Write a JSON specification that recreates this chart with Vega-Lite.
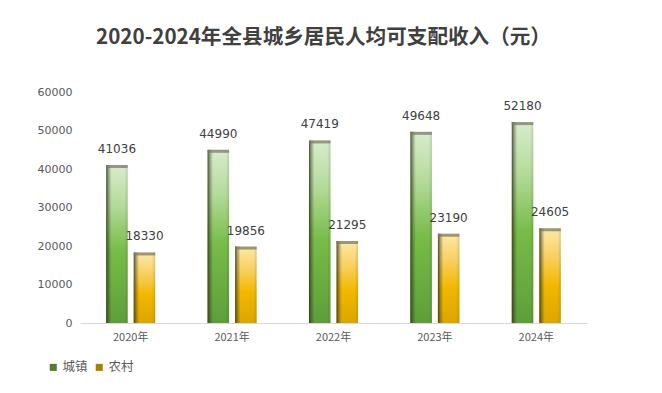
{
  "$schema": "https://vega.github.io/schema/vega-lite/v6.json",
  "width": 507,
  "height": 231,
  "autosize": {"type": "none"},
  "padding": {"left": 80, "top": 92, "right": 75, "bottom": 70},
  "background": "white",
  "config": {"view": {"stroke": null}, "font": "Noto Sans CJK SC"},
  "title": {"text": "2020-2024年全县城乡居民人均可支配收入（元）", "fontSize": 20.6, "fontWeight": "bold", "color": "#404040", "font": "Noto Sans CJK SC", "offset": 37, "dx": -10, "anchor": "middle"},
  "data": {"values": [
    {"year": "2020年", "series": "城镇", "value": 41036},
    {"year": "2020年", "series": "农村", "value": 18330},
    {"year": "2021年", "series": "城镇", "value": 44990},
    {"year": "2021年", "series": "农村", "value": 19856},
    {"year": "2022年", "series": "城镇", "value": 47419},
    {"year": "2022年", "series": "农村", "value": 21295},
    {"year": "2023年", "series": "城镇", "value": 49648},
    {"year": "2023年", "series": "农村", "value": 23190},
    {"year": "2024年", "series": "城镇", "value": 52180},
    {"year": "2024年", "series": "农村", "value": 24605}
  ]},
  "encoding": {
    "x": {"field": "year", "type": "nominal", "sort": null, "scale": {"paddingInner": 0, "paddingOuter": 0},
      "axis": {"title": null, "labelAngle": 0, "ticks": false, "domainColor": "#d9d9d9", "labelColor": "#595959", "labelFontSize": 11, "labelPadding": 8, "labelFont": "Noto Sans CJK SC"}},
    "xOffset": {"field": "series", "type": "nominal", "scale": {"domain": ["城镇", "农村"], "paddingInner": 0.218, "paddingOuter": 0.95}},
    "y": {"field": "value", "type": "quantitative", "scale": {"domain": [0, 60000], "nice": false},
      "axis": {"title": null, "values": [0, 10000, 20000, 30000, 40000, 50000, 60000], "format": "d", "grid": false, "domain": false, "ticks": false, "labelColor": "#595959", "labelFontSize": 11, "labelPadding": 8, "labelFont": "DejaVu Sans"}}
  },
  "layer": [
    {
      "transform": [{"filter": "datum.series === '城镇'"}],
      "mark": {"type": "bar", "color": {"gradient": "linear", "x1": 0, "y1": 0, "x2": 0, "y2": 1, "stops": [
        {"offset": 0, "color": "#d8ecce"},
        {"offset": 0.25, "color": "#b5db9c"},
        {"offset": 0.55, "color": "#77bb48"},
        {"offset": 1, "color": "#5e9e3a"}
      ]}}
    },
    {
      "transform": [{"filter": "datum.series === '农村'"}],
      "mark": {"type": "bar", "color": {"gradient": "linear", "x1": 0, "y1": 0, "x2": 0, "y2": 1, "stops": [
        {"offset": 0, "color": "#fde9a6"},
        {"offset": 0.3, "color": "#f8d061"},
        {"offset": 0.6, "color": "#f2b800"},
        {"offset": 1, "color": "#dba600"}
      ]}}
    },
    {
      "mark": {"type": "bar", "color": {"gradient": "linear", "x1": 0, "y1": 0, "x2": 1, "y2": 0, "stops": [
        {"offset": 0, "color": "rgba(40,45,20,0.8)"},
        {"offset": 0.12, "color": "rgba(40,45,20,0.35)"},
        {"offset": 0.25, "color": "rgba(40,45,20,0)"},
        {"offset": 0.85, "color": "rgba(40,45,20,0)"},
        {"offset": 1, "color": "rgba(40,45,20,0.15)"}
      ]}}
    },
    {
      "mark": {"type": "tick", "orient": "horizontal", "thickness": 3, "size": 21.5, "yOffset": 1.5, "color": "#7d7a66", "opacity": 0.75}
    },
    {
      "mark": {"type": "text", "baseline": "bottom", "dy": -9, "fontSize": 12, "color": "#404040", "font": "DejaVu Sans"},
      "encoding": {"text": {"field": "value", "type": "quantitative", "format": "d"}}
    },
    {
      "mark": {"type": "point", "shape": "square", "opacity": 0, "filled": true},
      "encoding": {
        "color": {"field": "series", "type": "nominal", "scale": {"domain": ["城镇", "农村"], "range": ["#4f7f2c", "#a58200"]},
          "legend": {"title": null, "orient": "none", "direction": "horizontal", "legendX": -33, "legendY": 269, "symbolOpacity": 1, "symbolType": "square", "symbolSize": 50, "labelFontSize": 12.5, "labelColor": "#595959", "labelFont": "Noto Sans CJK SC", "columnPadding": 5, "labelOffset": 3, "padding": 0}}
      }
    }
  ]
}
